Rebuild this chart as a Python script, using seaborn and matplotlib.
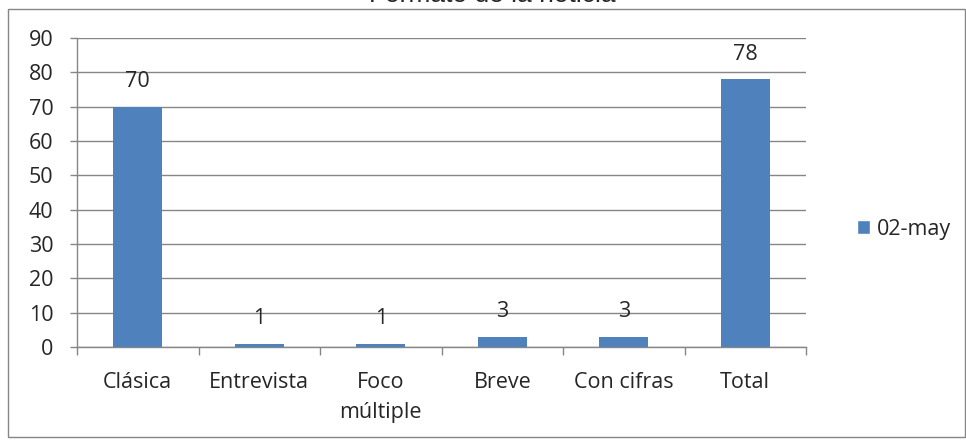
import matplotlib
matplotlib.use("Agg")
import matplotlib.pyplot as plt
import seaborn as sns
import pandas as pd
from matplotlib.patches import Rectangle, Patch

categories = ["Clásica", "Entrevista", "Foco\nmúltiple", "Breve", "Con cifras", "Total"]
values = [70, 1, 1, 3, 3, 78]
series_name = "02-may"
title = "Formato de la noticia"
yticks = [0, 10, 20, 30, 40, 50, 60, 70, 80, 90]

df = pd.DataFrame({"cat": categories, "val": values})

sns.set_style("white")
plt.rcParams["font.family"] = ["Open Sans", "DejaVu Sans"]

bar_color = "#4F81BD"
grid_color = "#868686"
fs = 15.5

fig = plt.figure(figsize=(9.66, 4.40), dpi=100)
ax = fig.add_axes([77/966, 1-347/440, (806-77)/966, (347-38)/440])

sns.barplot(data=df, x="cat", y="val", color=bar_color, width=0.4, ax=ax,
            saturation=1, edgecolor="none", zorder=3)

ax.set_xlim(-0.5, 5.5)
ax.set_ylim(0, 90)
ax.set_yticks(yticks)
ax.set_xlabel("")
ax.set_ylabel("")
ax.yaxis.grid(True, color=grid_color, linewidth=1, zorder=0)
ax.set_axisbelow(True)
for s in ["top", "right"]:
    ax.spines[s].set_visible(False)
for s in ["left", "bottom"]:
    ax.spines[s].set_color(grid_color)
    ax.spines[s].set_linewidth(1)

ax.tick_params(axis="y", which="major", length=5, color=grid_color, width=1,
               labelsize=fs, pad=12, left=True)
ax.tick_params(axis="x", which="major", length=0, labelsize=fs, pad=18)
for lbl in ax.get_xticklabels():
    lbl.set_linespacing(1.55)
ax.set_xticks([i - 0.5 for i in range(len(categories) + 1)], minor=True)
ax.tick_params(axis="x", which="minor", length=6, color=grid_color, width=1, bottom=True)

for i, v in enumerate(values):
    ax.annotate(str(v), (i, v), xytext=(0, 18), textcoords="offset points",
                ha="center", va="center", fontsize=fs)

ax.legend(handles=[Patch(facecolor=bar_color, label=series_name)],
          loc="center left", bbox_to_anchor=(842/966, 1-229/440),
          bbox_transform=fig.transFigure, frameon=False, fontsize=fs,
          handlelength=0.6, handleheight=0.6, handletextpad=0.3,
          borderpad=0.2)

fig.patches.append(Rectangle((8/966, 1-437/440), (965-8)/966, (437-9)/440,
                             transform=fig.transFigure, fill=False,
                             edgecolor=grid_color, linewidth=1))

fig.text(492/966, 1-1.5/440, title, ha="center", va="baseline",
         fontsize=19, family=["Liberation Sans", "DejaVu Sans"])

fig.savefig("out.png", dpi=100)
